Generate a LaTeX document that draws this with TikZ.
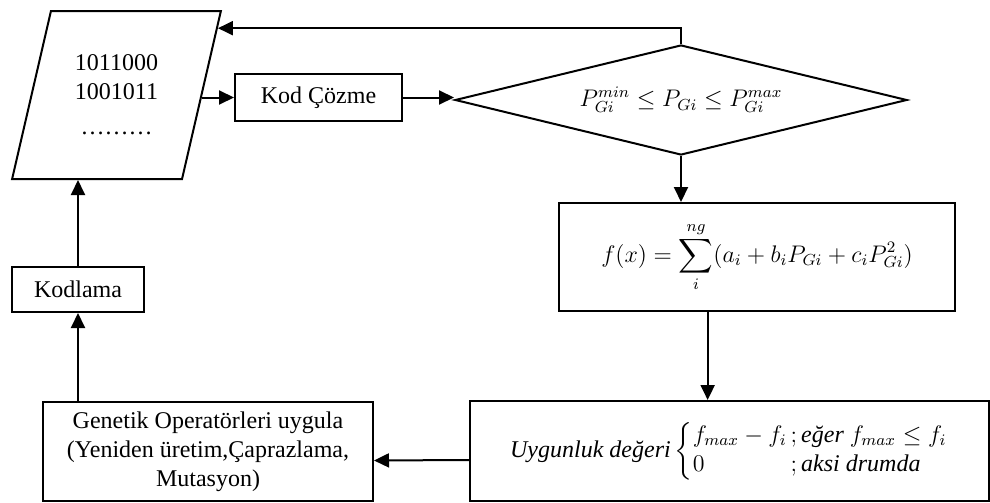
\documentclass[tikz,border=0pt,12pt]{standalone}
\usepackage{fontspec}
\setmainfont{Liberation Serif}
\usepackage{amsmath}
\usetikzlibrary{shapes.geometric,arrows.meta,calc}
\begin{document}
\begin{tikzpicture}[x=0.5pt,y=-0.5pt]
\useasboundingbox (0,0) rectangle (990,503);
\tikzset{blk/.style={draw,line width=1pt,inner sep=2pt}};
\tikzset{arr/.style={-{Triangle[length=7.5pt,width=7pt]},line width=1pt}};

\node[blk,trapezium,trapezium left angle=73,trapezium right angle=107,trapezium stretches,
  minimum width=105pt,minimum height=84pt,align=center] (par) at (116.5,95) {1011000\\1001011\\[3pt]\ldots\ldots\ldots};
\node[blk,minimum width=83.5pt,minimum height=23.5pt] (kod) at (318.5,97.5) {Kod Çözme};
\node[blk,diamond,aspect=4.1,minimum width=226pt,minimum height=55pt,inner sep=0pt] (dec) at (681,100) {$P_{Gi}^{min}\le P_{Gi}\le P_{Gi}^{max}$};
\node[blk,minimum width=198pt,minimum height=54pt] (fx) at (757,257) {$f(x)=\displaystyle\sum_{i}^{ng}(a_i+b_iP_{Gi}+c_iP_{Gi}^2)$};
\node[blk,minimum width=259.5pt,minimum height=50pt] (uyg) at (729.5,451) {$\textit{Uygunluk değeri}\left\{\begin{array}{@{}l@{}l@{}}f_{max}-f_i & \,;\textit{eğer }f_{max}\le f_i\\ 0 & \,;\textit{aksi drumda}\end{array}\right.$\rule[-9pt]{0pt}{0pt}};
\node[blk,minimum width=165pt,minimum height=49.5pt,align=center] (gen) at (208,451.5) {Genetik Operatörleri uygula\\(Yeniden üretim,Çaprazlama,\\Mutasyon)};
\node[blk,minimum width=66pt,minimum height=22.5pt] (kdl) at (78,289.5) {Kodlama};

\coordinate (fxo) at ($(fx.south west)!0.376!(fx.south east)$);
\coordinate (ret) at ($(par.top right corner)!0.107!(par.bottom right corner)$);

\path (kod.west -| par.east) edge [arr] (kod.west);
\path (kod.east) edge [arr] (kod.east -| dec.west);
\draw[arr] (dec.south) -- (dec.south |- fx.north);
\draw[arr] (fxo) -- (fxo |- uyg.north);
\draw[arr] ([yshift=-4.5pt]uyg.west) -- ([yshift=-4.5pt]gen.east);
\draw[arr] (gen.north -| kdl) -- (kdl.south);
\draw[arr] (kdl.north) -- (kdl.north |- par.south);
\draw[arr] (dec.north) |- (ret);
\end{tikzpicture}
\end{document}
